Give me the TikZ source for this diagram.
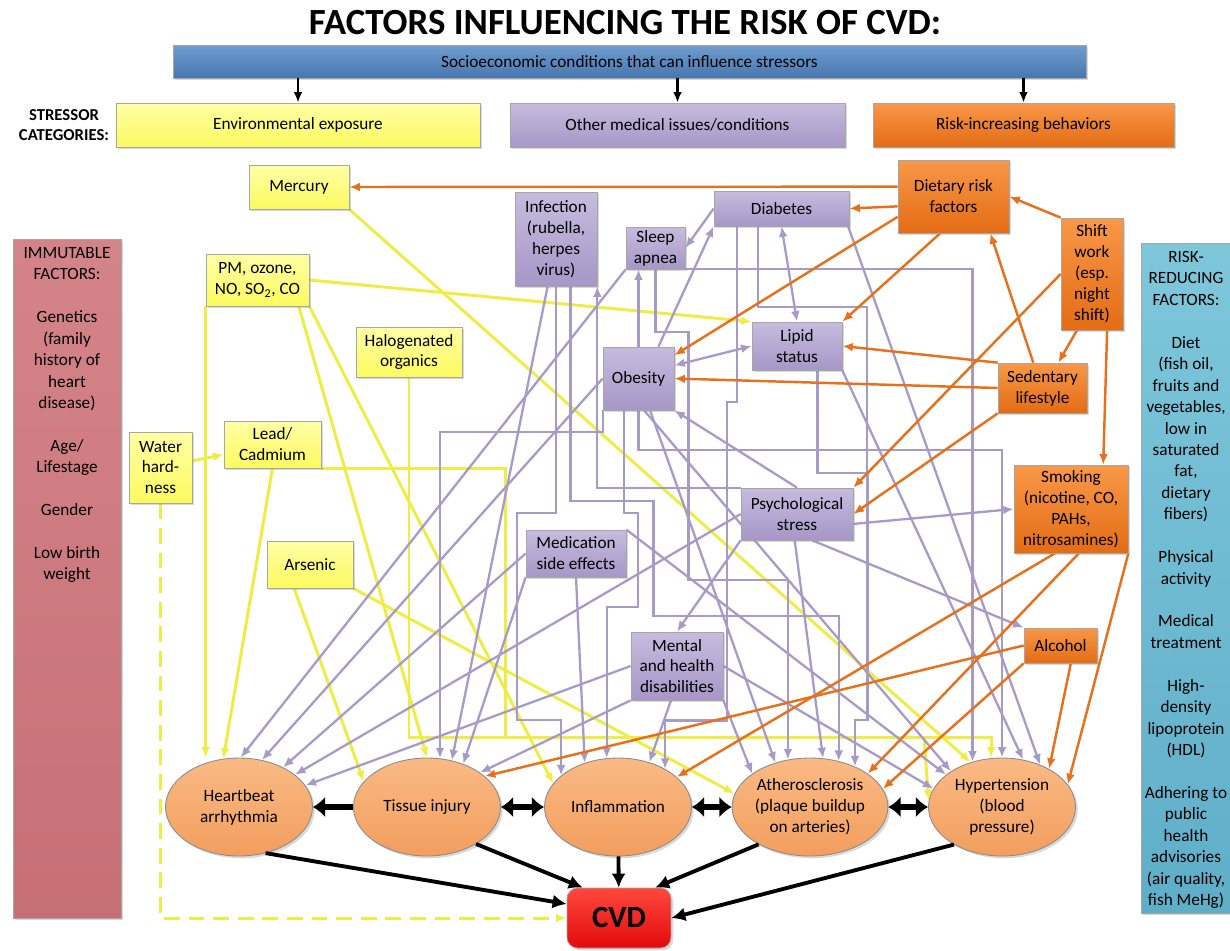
\documentclass[tikz,border=0pt]{standalone}
\usepackage{fontspec}
\setmainfont{Carlito}
\usetikzlibrary{arrows.meta,shapes.geometric,shadows,backgrounds}

\definecolor{envtop}{RGB}{255,255,165}
\definecolor{envbot}{RGB}{252,250,95}
\definecolor{medtop}{RGB}{198,188,222}
\definecolor{medbot}{RGB}{166,151,199}
\definecolor{behtop}{RGB}{248,152,72}
\definecolor{behbot}{RGB}{228,108,20}
\definecolor{soctop}{RGB}{112,157,206}
\definecolor{socbot}{RGB}{72,118,175}
\definecolor{efftop}{RGB}{250,186,132}
\definecolor{effbot}{RGB}{242,158,94}
\definecolor{cvdtop}{RGB}{255,72,62}
\definecolor{cvdbot}{RGB}{226,10,10}
\definecolor{immtop}{RGB}{212,132,137}
\definecolor{immbot}{RGB}{198,112,118}
\definecolor{redtop}{RGB}{126,199,219}
\definecolor{redbot}{RGB}{95,174,200}
\definecolor{envline}{RGB}{240,236,70}
\definecolor{medline}{RGB}{166,154,201}
\definecolor{behline}{RGB}{230,112,28}

\begin{document}
\begin{tikzpicture}[x=0.02cm, y=-0.02cm, >={Latex[length=6pt,width=5pt]},
    font=\fontsize{9.8}{11.9}\selectfont,
    caja/.style={draw=black!35, line width=0.4pt, align=center, inner sep=1pt,
      drop shadow={shadow xshift=1.3pt, shadow yshift=-1.3pt, opacity=0.3}},
    amarilla/.style={caja, top color=envtop, bottom color=envbot},
    morada/.style={caja, top color=medtop, bottom color=medbot},
    naranja/.style={caja, top color=behtop, bottom color=behbot},
    azul/.style={caja, top color=soctop, bottom color=socbot},
    efecto/.style={ellipse, draw=black!45, line width=0.5pt, top color=efftop,
      bottom color=effbot, align=center, inner sep=0pt, minimum width=2.94cm,
      minimum height=1.96cm, drop shadow={shadow xshift=1.3pt, shadow yshift=-1.3pt, opacity=0.3}},
    panel/.style={font=\fontsize{9.8}{12.2}\selectfont, align=center, anchor=north, inner sep=0pt},
    lamarilla/.style={envline, line width=1.7pt, ->},
    lmorada/.style={medline, line width=1.3pt, ->},
    lnaranja/.style={behline, line width=1.4pt, ->},
    flechacat/.style={black, line width=1.2pt, ->},
    lnegra/.style={black, line width=2.2pt, arrows={-Latex[length=8pt,width=8pt]}},
    gruesa/.style={black, line width=3pt, arrows={-Latex[length=7pt,width=12pt]}},
    gruesadoble/.style={black, line width=3pt, arrows={Latex[length=7pt,width=12pt]-Latex[length=7pt,width=12pt]}}]

    \useasboundingbox (0,0) rectangle (1230,950);

    % Titulo y barra superior
    \node[font=\fontsize{21}{24}\selectfont\bfseries] (titulo) at (625,23) {FACTORS INFLUENCING THE RISK OF CVD:};
    \node[azul, minimum width=18.26cm, minimum height=0.66cm] (soc) at (629.5,61.5) {Socioeconomic conditions that can influence stressors};

    % Categorias
    \node[font=\fontsize{9.5}{11}\selectfont\bfseries, align=center] (categ) at (64,125) {STRESSOR\\CATEGORIES:};
    \node[amarilla, minimum width=7.28cm, minimum height=0.88cm] (envcat) at (298,125) {Environmental exposure};
    \node[morada, minimum width=6.7cm, minimum height=0.88cm] (medcat) at (677.5,125) {Other medical issues/conditions};
    \node[naranja, minimum width=6.02cm, minimum height=0.88cm] (behcat) at (1023.5,125) {Risk-increasing behaviors};

    % Paneles laterales
    \node[caja, top color=immtop, bottom color=immbot, minimum width=2.16cm, minimum height=13.58cm] (inmut) at (67,578.5) {};
    \node[panel] (inmuttxt) at (67,247) {IMMUTABLE\\FACTORS:\\[12.2pt]Genetics\\(family\\history of\\heart\\disease)\\[12.2pt]Age/\\Lifestage\\[12.2pt]Gender\\[12.2pt]Low birth\\weight};
    \node[caja, top color=redtop, bottom color=redbot, minimum width=1.8cm, minimum height=13.4cm] (reduc) at (1186,578) {};
    \node[panel] (reductxt) at (1186,251) {RISK-\\REDUCING\\FACTORS:\\[12.2pt]Diet\\(fish oil,\\fruits and\\vegetables,\\low in\\saturated\\fat,\\dietary\\fibers)\\[12.2pt]Physical\\activity\\[12.2pt]Medical\\treatment\\[12.2pt]High-\\density\\lipoprotein\\(HDL)\\[12.2pt]Adhering to\\public\\health\\advisories\\(air quality,\\fish MeHg)};

    % Exposicion ambiental
    \node[amarilla, minimum width=2cm, minimum height=0.88cm] (mercury) at (299,187) {Mercury};
    \node[amarilla, minimum width=2.06cm, minimum height=1.04cm] (pm) at (257.5,280) {PM, ozone,\\NO, SO\textsubscript{2}, CO};
    \node[amarilla, minimum width=2.12cm, minimum height=1cm] (halo) at (409,352) {Halogenated\\organics};
    \node[amarilla, minimum width=1.26cm, minimum height=1.42cm] (water) at (160.5,467.5) {Water\\hard-\\ness};
    \node[amarilla, minimum width=1.94cm, minimum height=0.94cm] (lead) at (272.5,444.5) {Lead/\\Cadmium};
    \node[amarilla, minimum width=1.72cm, minimum height=0.94cm] (arsen) at (310,564.5) {Arsenic};

    % Otros problemas medicos
    \node[morada, minimum width=1.64cm, minimum height=1.88cm] (infect) at (556,239) {Infection\\(rubella,\\herpes\\virus)};
    \node[morada, minimum width=2.7cm, minimum height=0.7cm] (diab) at (781.5,208.5) {Diabetes};
    \node[morada, minimum width=1.18cm, minimum height=0.84cm] (sleep) at (655.5,248) {Sleep\\apnea};
    \node[morada, minimum width=1.8cm, minimum height=0.96cm] (lipid) at (797,346) {Lipid\\status};
    \node[morada, minimum width=1.42cm, minimum height=1.26cm] (obes) at (638.5,378.5) {Obesity};
    \node[morada, minimum width=2.24cm, minimum height=1.04cm] (psych) at (797,514) {Psychological\\stress};
    \node[morada, minimum width=2cm, minimum height=0.94cm] (medic) at (576,553.5) {Medication\\side effects};
    \node[morada, minimum width=1.84cm, minimum height=1.36cm] (mental) at (677,666) {Mental\\and health\\disabilities};

    % Conductas de riesgo
    \node[naranja, minimum width=2.22cm, minimum height=1.46cm] (diet) at (953.5,196.5) {Dietary risk\\factors};
    \node[naranja, minimum width=1.24cm, minimum height=2.24cm] (shift) at (1092,274) {Shift\\work\\(esp.\\night\\shift)};
    \node[naranja, minimum width=1.78cm, minimum height=1cm] (sed) at (1042.5,388) {Sedentary\\lifestyle};
    \node[naranja, minimum width=2.28cm, minimum height=1.76cm] (smoke) at (1071,509) {Smoking\\(nicotine, CO,\\PAHs,\\nitrosamines)};
    \node[naranja, minimum width=1.46cm, minimum height=0.7cm] (alc) at (1060.5,645.5) {Alcohol};

    % Efectos y CVD
    \node[efecto] (hb) at (239,807) {Heartbeat\\arrhythmia};
    \node[efecto] (tissue) at (427,807) {Tissue injury};
    \node[efecto] (infl) at (618,807) {Inflammation};
    \node[efecto] (ather) at (810,807) {Atherosclerosis\\(plaque buildup\\on arteries)};
    \node[efecto] (hyper) at (1002,807) {Hypertension\\(blood\\pressure)};
    \node[caja, rounded corners=6pt, top color=cvdtop, bottom color=cvdbot, minimum width=2.08cm, minimum height=1.2cm,
      font=\fontsize{17.5}{20}\selectfont\bfseries] (cvd) at (619,918) {CVD};

    \coordinate (bus) at (991,737);
    \coordinate (busplomo) at (505,737);
    \coordinate (ramal) at (924,737);

    \begin{scope}[on background layer]
    % Flechas amarillas
    \draw[lamarilla] (water) -- (lead);
    \draw[lamarilla, dash pattern=on 9pt off 5pt] (water.south) |- (cvd.west);
    \draw[lamarilla] (pm.south west) -- (pm.south west |- hb.north);
    \draw[lamarilla] (lead.south) -- (hb.108);
    \draw[lamarilla] ([xshift=-6pt]pm.south east) -- (tissue.north);
    \draw[lamarilla] (pm.south east) -- (infl.160);
    \draw[lamarilla] (pm.east) -- (lipid.north west);
    \draw[lamarilla] (mercury.south east) -- (hyper.125);
    \draw[lamarilla] ([xshift=-9pt]arsen.south) -- (tissue.158);
    \draw[lamarilla] (arsen.south east) -- (ather.170);
    \draw[lamarilla] (halo.south) |- (bus) -- (bus |- hyper.north);
    \draw[lamarilla, -] (lead.south east) -| (busplomo);
    \draw[lamarilla] (ramal) -- (hyper.175);

    % Flechas moradas
    \draw[lmorada] (diab.west) -- (sleep.east);
    \draw[lmorada] (obes.58) -- (diab.south west);
    \draw[lmorada] (obes.north) -- (obes.north |- sleep.south);
    \draw[lmorada, <->] (diab.south) -- (lipid.north);
    \draw[lmorada, <->] (lipid.west) -- (obes.20);
    \draw[lmorada] (psych.north) -- (obes.south east);
    \draw[lmorada] (psych.-10) -- (smoke.west);
    \draw[lmorada] (psych.south west) -- (mental.north);
    \draw[lmorada] (psych.-60) -- (alc.north west);
    \draw[lmorada] (psych.-95) -- (ather.75);
    \draw[lmorada] (psych.west) -- (hb.30);
    \draw[lmorada] (psych.north west) -| (infect.south east);
    \draw[lmorada] (sleep.south east) -| (hyper.123);
    \draw[lmorada, -] (diab.-143) -- ++(0,81) -- ++(109,0) -- ++(0,166);
    \draw[lmorada] (lipid.-50) -- ++(0,103) -- ++(50,0) -- ++(0,247) -| (ather.42.6);
    \draw[lmorada] (obes.south) -- ++(0,40) -| (hyper.north);
    \draw[lmorada] (obes.south west) -- ++(0,22) -| (tissue.75);
    \draw[lmorada] (infect.south) -- ++(0,227) -- ++(-39,0) -- ++(0,207) -| (infl.151);
    \draw[lmorada] (infect.-73) -- ++(0,215) -- ++(83,0) -- ++(0,115) -| (ather.58);
    \draw[lmorada] (obes.-115) -- ++(0,103) -- ++(14,0) -- ++(0,94) -| (infl.103);
    \draw[lmorada] (sleep.south) -- ++(0,63) -- ++(33,0) -- ++(0,248) -| (ather.115);
    \draw[lmorada] (diab.-158) -- ++(0,176) -- ++(-10,0) -- ++(0,318) -| (infl.39);
    \draw[lmorada] (sleep.south west) -- (hb.88);
    \draw[lmorada] (obes.west) -- (hb.64);
    \draw[lmorada] (medic.west) -- (hb.42);
    \draw[lmorada] (mental.west) -- (hb.18);
    \draw[lmorada] (infect.-100) -- (tissue.62);
    \draw[lmorada] (medic.south west) -- (tissue.50);
    \draw[lmorada] (mental.south west) -- (tissue.33);
    \draw[lmorada] (medic.south) -- (infl.127);
    \draw[lmorada] (medic.north east) -- (hyper.150);
    \draw[lmorada] (mental.-100) -- (infl.55);
    \draw[lmorada] (mental.south east) -- (ather.150);
    \draw[lmorada] (mental.east) -- (hyper.165);
    \draw[lmorada] (diab.-15) -- (hyper.48);
    \draw[lmorada] (lipid.south east) -- (hyper.66);
    \draw[lmorada] (obes.-80) -- (hyper.145);
    \draw[lmorada] (obes.-70) -- (ather.128);

    % Flechas naranjas
    \draw[lnaranja] (diet.170) -- (mercury.east);
    \draw[lnaranja] (diet.190) -- (diab.east);
    \draw[lnaranja] (diet.200) -- (obes.33);
    \draw[lnaranja] (diet.-110) -- (lipid.north east);
    \draw[lnaranja] (shift.north west) -- (diet.east);
    \draw[lnaranja] (shift.-105) -- (sed.58);
    \draw[lnaranja] (shift.-75) -- (smoke.54);
    \draw[lnaranja] (shift.west) -- (psych.north east);
    \draw[lnaranja] (sed.110) -- (diet.-45);
    \draw[lnaranja] (sed.north west) -- (lipid.east);
    \draw[lnaranja] (sed.west) -- (obes.east);
    \draw[lnaranja] (sed.south west) -- (psych.east);
    \draw[lnaranja] (smoke.-110) -- (infl.27);
    \draw[lnaranja] (smoke.-80) -- (ather.30);
    \draw[lnaranja] (smoke.south east) -- (hyper.19);
    \draw[lnaranja] (alc.west) -- (tissue.28);
    \draw[lnaranja] (alc.south west) -- (ather.14);
    \draw[lnaranja] (alc.-60) -- (hyper.39);
    \end{scope}

    % Flechas negras
    \draw[flechacat] (soc.south -| envcat.north) -- (envcat.north);
    \draw[flechacat] (soc.south -| medcat.north) -- (medcat.north);
    \draw[flechacat] (soc.south -| behcat.north) -- (behcat.north);
    \draw[gruesa] (tissue) -- (hb);
    \draw[gruesadoble] (tissue) -- (infl);
    \draw[gruesadoble] (infl) -- (ather);
    \draw[gruesadoble] (ather) -- (hyper);
    \draw[lnegra] (hb.-60) -- (cvd.165);
    \draw[lnegra] (tissue.-37) -- (cvd.140);
    \draw[lnegra] (infl) -- (cvd);
    \draw[lnegra] (ather.-144) -- (cvd.40);
    \draw[lnegra] (hyper.-142) -- (cvd.east);
\end{tikzpicture}
\end{document}
